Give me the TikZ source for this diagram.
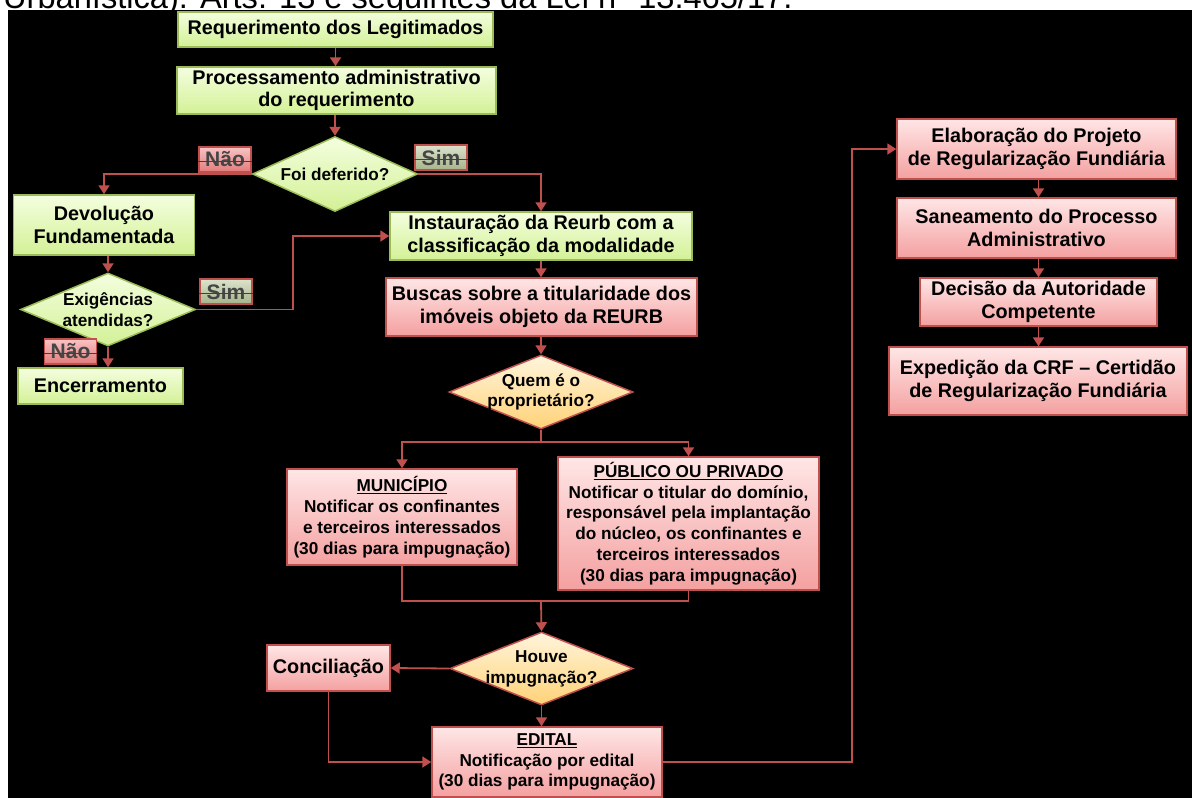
\documentclass[tikz,border=0pt]{standalone}
\usepackage{fontspec}
\setmainfont{Liberation Sans}
\usetikzlibrary{arrows.meta,shapes.geometric}
\definecolor{lnred}{HTML}{C0504D}
\definecolor{gborder}{HTML}{9BBB59}
\definecolor{gtop}{HTML}{F4FEDF}
\definecolor{gbot}{HTML}{D3F196}
\definecolor{ptop}{HTML}{FFE6E6}
\definecolor{pbot}{HTML}{F4A0A0}
\definecolor{ytop}{HTML}{FFF5DC}
\definecolor{ybot}{HTML}{FFD277}
\definecolor{ntop}{HTML}{F9C4C4}
\definecolor{nbot}{HTML}{E27A7A}
\definecolor{stop}{HTML}{DCE3CC}
\definecolor{sbot}{HTML}{A5B38A}
\definecolor{labtxt}{HTML}{454545}
\tikzset{
  bigf/.style={font=\bfseries\fontsize{19.8}{22.5}\selectfont},
  smallf/.style={font=\bfseries\fontsize{17.2}{20.8}\selectfont},
  gbox/.style={rectangle, draw=gborder, line width=1.5pt, top color=gtop, bottom color=gbot, inner sep=0pt, align=center, bigf},
  pbox/.style={rectangle, draw=lnred, line width=1.5pt, top color=ptop, bottom color=pbot, inner sep=0pt, align=center, bigf},
  gdia/.style={diamond, draw=gborder, line width=1.5pt, top color=gtop, bottom color=gbot, inner sep=0pt},
  ydia/.style={diamond, draw=lnred, line width=1.5pt, top color=ytop, bottom color=ybot, inner sep=0pt},
  dtext/.style={align=center, smallf, inner sep=0pt},
  conn/.style={draw=lnred, line width=1.8pt},
  arr/.style={conn, -{Triangle[length=9pt,width=11pt]}},
  lab/.style={rectangle, draw=lnred, line width=1.3pt, minimum width=52pt, minimum height=25pt, inner sep=0pt, text=labtxt, font=\bfseries\fontsize{21}{21}\selectfont},
  nlab/.style={lab, top color=ntop, bottom color=nbot},
  slab/.style={lab, top color=stop, bottom color=sbot},
  strk/.style={draw=black!75, line width=1.4pt}
}
\begin{document}
\begin{tikzpicture}[x=1pt,y=-1pt]
\useasboundingbox (0,0) rectangle (1192,798);
\clip (0,0) rectangle (1192,798);
\fill[white] (0,0) rectangle (1192,798);
\node[anchor=base west, inner sep=0pt, font=\fontsize{32.6}{32.6}\selectfont] (title) at (3,8) {Urbanística). Arts. 13 e seguintes da Lei n° 13.465/17.};
\fill[black] (8,10) rectangle (1192,798);

% left / centre column
\node[gbox, minimum width=315pt, minimum height=35pt] (req) at (335.5,29.5) {Requerimento dos Legitimados};
\node[gbox, minimum width=319pt, minimum height=47pt] (proc) at (336.5,90.5) {Processamento administrativo\\do requerimento};
\node[gdia, minimum width=165pt, minimum height=75pt] (d1) at (335,174) {};
\node[dtext] (d1t) at (335,174) {Foi deferido?};
\node[gbox, minimum width=181pt, minimum height=60pt] (dev) at (104,225) {Devolução\\Fundamentada};
\node[gdia, minimum width=175pt, minimum height=73pt] (d2) at (108,309.5) {};
\node[dtext] (d2t) at (108,309.5) {Exigências\\atendidas?};
\node[gbox, minimum width=165pt, minimum height=36pt] (enc) at (100.5,386) {Encerramento};
\node[gbox, minimum width=302pt, minimum height=48pt] (inst) at (541,236) {Instauração da Reurb com a\\classificação da modalidade};
\node[pbox, minimum width=311pt, minimum height=58pt] (busc) at (541.5,307) {Buscas sobre a titularidade dos\\imóveis objeto da REURB};
\node[ydia, minimum width=184pt, minimum height=74pt] (d3) at (541,392) {};
\node[dtext] (d3t) at (541,392) {Quem é o\\proprietário?};
\node[pbox, smallf, minimum width=230pt, minimum height=96pt] (mun) at (402,517) {\underline{MUNICÍPIO}\\Notificar os confinantes\\e terceiros interessados\\(30 dias para impugnação)};
\node[pbox, smallf, minimum width=261pt, minimum height=133pt] (pub) at (688.5,523.5) {\underline{PÚBLICO OU PRIVADO}\\Notificar o titular do domínio,\\responsável pela implantação\\do núcleo, os confinantes e\\terceiros interessados\\(30 dias para impugnação)};
\node[ydia, minimum width=183pt, minimum height=73pt] (d4) at (541.5,668.5) {};
\node[dtext] (d4t) at (541.5,668.5) {Houve\\impugnação?};
\node[pbox, minimum width=123pt, minimum height=46pt] (conc) at (328.5,668) {Conciliação};
\node[pbox, smallf, minimum width=230pt, minimum height=70pt] (edital) at (547,762) {\underline{EDITAL}\\Notificação por edital\\(30 dias para impugnação)};

% right column
\node[pbox, minimum width=279pt, minimum height=60pt] (elab) at (1036.5,149) {Elaboração do Projeto\\de Regularização Fundiária};
\node[pbox, minimum width=279pt, minimum height=60pt] (san) at (1036.5,228) {Saneamento do Processo\\Administrativo};
\node[pbox, minimum width=237pt, minimum height=48pt] (dec) at (1038.5,302) {Decisão da Autoridade\\Competente};
\node[pbox, minimum width=298pt, minimum height=68pt] (exp) at (1038,381) {Expedição da CRF – Certidão\\de Regularização Fundiária};

% connectors
\draw[arr] (req.south) -- (req.south |- proc.north);
\draw[arr] (proc.south -| d1.north) -- (d1.north);
\draw[arr] (d1.west) -| (dev.north);
\draw[arr] (d1.east) -| (inst.north);
\draw[arr] (d2.north |- dev.south) -- (d2.north);
\draw[arr] (d2.east) -- ++(97,0) |- (inst.west);
\draw[arr] (d2.south) -- (d2.south |- enc.north);
\draw[arr] (inst.south) -- (inst.south |- busc.north);
\draw[arr] (busc.south -| d3.north) -- (d3.north);
\coordinate (fork) at (541,442);
\coordinate (join) at (541,601);
\draw[conn] (d3.south) -- (fork);
\draw[arr] (fork) -| (mun.north);
\draw[arr] (fork) -| (pub.north);
\draw[conn] (mun.south) |- (join);
\draw[conn] (pub.south) |- (join);
\draw[arr] (join) -- (d4.north);
\draw[arr] (d4.west) -- (conc.east);
\draw[arr] (conc.south) |- (edital.west);
\draw[arr] (d4.south) -- (d4.south |- edital.north);
\draw[arr] (edital.east) -- ++(189,0) |- (elab.west);
\draw[arr] (elab.south -| dec.north) -- (dec.north |- san.north);
\draw[arr] (san.south -| dec.north) -- (dec.north);
\draw[arr] (dec.south) -- (dec.south |- exp.north);

% labels
\node[nlab] (n1) at (225,159.5) {Não};
\node[slab] (s1) at (441,157.5) {Sim};
\node[slab] (s2) at (226,291.5) {Sim};
\node[nlab] (n2) at (70.5,351.5) {Não};
\foreach \l in {n1,s1,s2,n2}{
  \draw[strk] ([yshift=-2pt]\l.west) -- ([yshift=-2pt]\l.east);
}
\end{tikzpicture}
\end{document}
